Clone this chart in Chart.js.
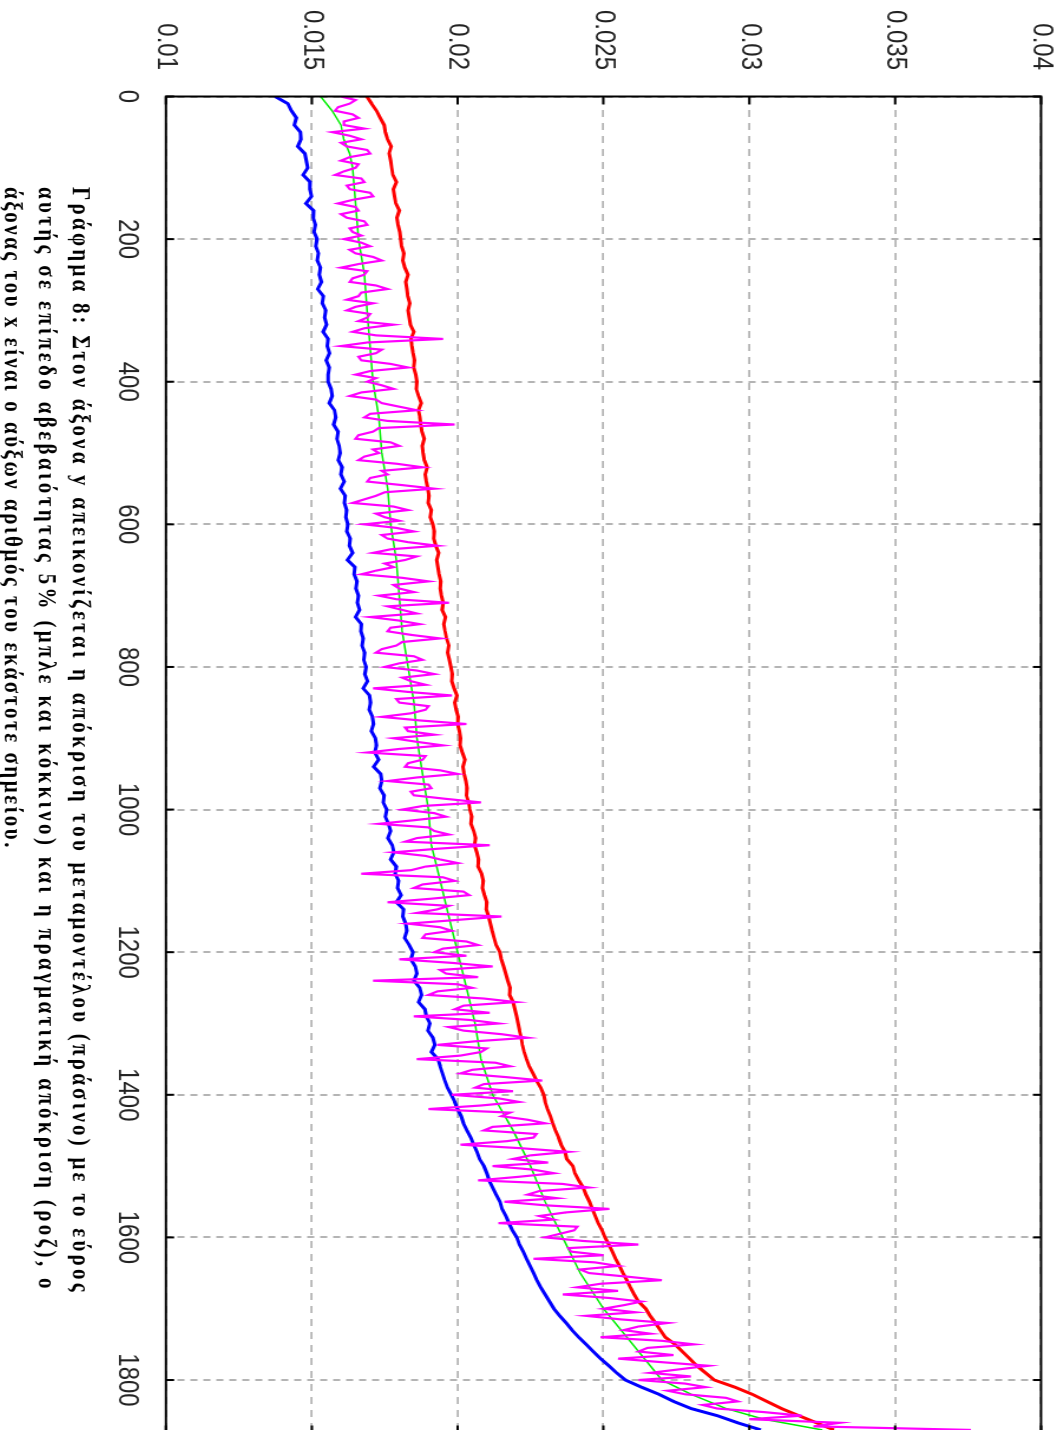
<!DOCTYPE html>
<html>
<head>
<meta charset="utf-8">
<script src="https://cdn.jsdelivr.net/npm/chart.js@4.4.0/dist/chart.umd.min.js"></script>
<style>
  html, body { margin: 0; padding: 0; background: #fff; overflow: hidden; width: 1063px; height: 1430px; }
  /* chart is laid out unrotated, then turned a quarter clockwise and stretched across */
  #stage {
    position: absolute; left: 0; top: 0; width: 1440px; height: 901px;
    transform-origin: 0 0;
    transform: translateX(1063px) rotate(90deg) scale(1, 1.18);
  }
  #plot { position: absolute; left: 0; top: 0; width: 1440px; height: 901px; }
  #caption {
    position: absolute; left: 187px; top: 818px;
    font: bold 21px 'Liberation Serif', serif; line-height: 29px; color: #000;
  }
  #caption span { display: inline-block; white-space: nowrap; }
</style>
</head>
<body>
<div id="stage">
  <div id="plot"><canvas id="chart"></canvas></div>
  <div id="caption">
    <span data-w="1108">Γράφημα 8: Στον άξονα y απεικονίζεται η απόκριση του μεταμοντέλου (πράσινο) με το εύρος</span><br>
    <span data-w="1108">αυτής σε επίπεδο αβεβαιότητας 5% (μπλε και κόκκινο)  και η πραγματική απόκριση (ροζ), ο</span><br>
    <span data-w="663">άξονας του x είναι ο αύξων αριθμός του εκάστοτε σημείου.</span>
  </div>
</div>
<script>
// tick values / labels
const xTicks = [0, 200, 400, 600, 800, 1000, 1200, 1400, 1600, 1800];
const yTicks = [0.01, 0.015, 0.02, 0.025, 0.03, 0.035, 0.04];
const yTickLabels = ['0.01', '0.015', '0.02', '0.025', '0.03', '0.035', '0.04'];

// lower bound (blue), every 10 points
const blueVals = [
  // 0 - 190
  0.01374, 0.01418, 0.01430, 0.01447, 0.01440, 0.01461, 0.01463, 0.01452, 0.01476, 0.01481,
  0.01486, 0.01470, 0.01494, 0.01493, 0.01499, 0.01480, 0.01506, 0.01505, 0.01512, 0.01508,
  // 200 - 390
  0.01518, 0.01514, 0.01523, 0.01519, 0.01530, 0.01526, 0.01533, 0.01520, 0.01540, 0.01536,
  0.01548, 0.01544, 0.01551, 0.01539, 0.01556, 0.01553, 0.01561, 0.01549, 0.01560, 0.01556,
  // 400 - 590
  0.01556, 0.01566, 0.01570, 0.01560, 0.01578, 0.01582, 0.01575, 0.01590, 0.01586, 0.01594,
  0.01597, 0.01591, 0.01604, 0.01600, 0.01611, 0.01598, 0.01615, 0.01612, 0.01620, 0.01617,
  // 600 - 790
  0.01624, 0.01620, 0.01632, 0.01629, 0.01640, 0.01622, 0.01648, 0.01645, 0.01655, 0.01651,
  0.01660, 0.01656, 0.01664, 0.01650, 0.01670, 0.01668, 0.01676, 0.01672, 0.01681, 0.01678,
  // 800 - 990
  0.01686, 0.01682, 0.01691, 0.01676, 0.01698, 0.01702, 0.01697, 0.01708, 0.01712, 0.01704,
  0.01718, 0.01722, 0.01716, 0.01729, 0.01712, 0.01736, 0.01740, 0.01733, 0.01748, 0.01745,
  // 1000 - 1190
  0.01757, 0.01752, 0.01763, 0.01770, 0.01761, 0.01776, 0.01781, 0.01770, 0.01790, 0.01786,
  0.01798, 0.01794, 0.01806, 0.01790, 0.01815, 0.01812, 0.01822, 0.01826, 0.01818, 0.01834,
  // 1200 - 1390
  0.01847, 0.01840, 0.01855, 0.01860, 0.01850, 0.01870, 0.01876, 0.01866, 0.01888, 0.01893,
  0.01905, 0.01898, 0.01915, 0.01922, 0.01910, 0.01933, 0.01940, 0.01948, 0.01956, 0.01965,
  // 1400 - 1590
  0.01978, 0.01990, 0.02000, 0.02012, 0.02020, 0.02032, 0.02045, 0.02055, 0.02066, 0.02075,
  0.02090, 0.02100, 0.02108, 0.02120, 0.02132, 0.02145, 0.02152, 0.02165, 0.02176, 0.02188,
  // 1600 - 1790
  0.02203, 0.02212, 0.02225, 0.02236, 0.02248, 0.02260, 0.02272, 0.02285, 0.02300, 0.02315,
  0.02330, 0.02350, 0.02372, 0.02392, 0.02415, 0.02440, 0.02465, 0.02490, 0.02518, 0.02545,
  // 1800 - 1870
  0.02575, 0.02630, 0.02690, 0.02740, 0.02800, 0.02890, 0.02960, 0.03040
];

// upper bound (red), every 10 points
const redVals = [
  // 0 - 190
  0.01689, 0.01705, 0.01722, 0.01735, 0.01748, 0.01752, 0.01760, 0.01772, 0.01765, 0.01770,
  0.01774, 0.01778, 0.01790, 0.01780, 0.01784, 0.01788, 0.01800, 0.01792, 0.01796, 0.01802,
  // 200 - 390
  0.01805, 0.01808, 0.01816, 0.01812, 0.01819, 0.01830, 0.01822, 0.01826, 0.01829, 0.01836,
  0.01830, 0.01834, 0.01838, 0.01850, 0.01840, 0.01843, 0.01847, 0.01852, 0.01849, 0.01856,
  // 400 - 590
  0.01860, 0.01858, 0.01866, 0.01875, 0.01866, 0.01871, 0.01874, 0.01878, 0.01886, 0.01879,
  0.01882, 0.01886, 0.01896, 0.01889, 0.01893, 0.01898, 0.01902, 0.01899, 0.01910, 0.01906,
  // 600 - 790
  0.01915, 0.01920, 0.01918, 0.01925, 0.01935, 0.01928, 0.01932, 0.01936, 0.01942, 0.01940,
  0.01944, 0.01950, 0.01947, 0.01958, 0.01953, 0.01957, 0.01962, 0.01970, 0.01966, 0.01972,
  // 800 - 990
  0.01977, 0.01982, 0.01980, 0.01988, 0.01998, 0.01990, 0.01995, 0.02002, 0.02000, 0.02006,
  0.02010, 0.02008, 0.02016, 0.02025, 0.02018, 0.02022, 0.02028, 0.02032, 0.02030, 0.02038,
  // 1000 - 1190
  0.02042, 0.02048, 0.02046, 0.02055, 0.02062, 0.02058, 0.02066, 0.02072, 0.02070, 0.02082,
  0.02088, 0.02085, 0.02092, 0.02100, 0.02098, 0.02106, 0.02112, 0.02118, 0.02125, 0.02132,
  // 1200 - 1390
  0.02145, 0.02150, 0.02158, 0.02165, 0.02172, 0.02180, 0.02178, 0.02190, 0.02196, 0.02202,
  0.02207, 0.02212, 0.02218, 0.02222, 0.02228, 0.02236, 0.02245, 0.02258, 0.02270, 0.02285,
  // 1400 - 1590
  0.02295, 0.02300, 0.02308, 0.02318, 0.02326, 0.02335, 0.02346, 0.02355, 0.02368, 0.02374,
  0.02395, 0.02402, 0.02415, 0.02430, 0.02440, 0.02452, 0.02462, 0.02472, 0.02482, 0.02495,
  // 1600 - 1790
  0.02505, 0.02518, 0.02530, 0.02542, 0.02555, 0.02567, 0.02580, 0.02592, 0.02605, 0.02620,
  0.02645, 0.02660, 0.02678, 0.02695, 0.02712, 0.02745, 0.02770, 0.02795, 0.02820, 0.02850,
  // 1800 - 1870
  0.02880, 0.02950, 0.03010, 0.03060, 0.03110, 0.03170, 0.03230, 0.03290
];
const boundX = blueVals.map((_, i) => i * 10);

// meta-model prediction (green)
const greenX = [0, 20, 40, 60, 80, 100, 150, 200, 250, 300, 350, 400, 450, 500, 550, 600, 650, 700,
  750, 800, 850, 900, 950, 1000, 1050, 1100, 1150, 1200, 1250, 1300, 1350, 1400, 1450, 1500, 1550,
  1600, 1650, 1700, 1750, 1800, 1820, 1840, 1855, 1870];
const greenVals = [0.0153, 0.0157, 0.0160, 0.0161, 0.0163, 0.0164, 0.0165, 0.0166, 0.0168, 0.0169,
  0.0170, 0.0171, 0.0173, 0.0174, 0.0176, 0.0177, 0.0179, 0.0180, 0.0181, 0.0183, 0.0185, 0.0186,
  0.0188, 0.0190, 0.0191, 0.0194, 0.0197, 0.0200, 0.0203, 0.0206, 0.0208, 0.0212, 0.0219, 0.0225,
  0.0230, 0.0236, 0.0242, 0.0250, 0.0260, 0.0270, 0.0280, 0.0292, 0.0305, 0.0325];

// actual response (magenta), every 5 points
const pinkVals = [
  // 0 - 195
  0.0160, 0.0165, 0.0163, 0.0159, 0.0158, 0.0164, 0.0166, 0.0161, 0.0161, 0.0168,
  0.0157, 0.0163, 0.0167, 0.0160, 0.0162, 0.0169, 0.0170, 0.0163, 0.0160, 0.0166,
  0.0165, 0.0161, 0.0158, 0.0167, 0.0168, 0.0162, 0.0163, 0.0170, 0.0171, 0.0164,
  0.0159, 0.0165, 0.0166, 0.0160, 0.0162, 0.0168, 0.0169, 0.0163, 0.0164, 0.0167,
  // 200 - 395
  0.0161, 0.0167, 0.0170, 0.0163, 0.0165, 0.0171, 0.0174, 0.0166, 0.0160, 0.0169,
  0.0168, 0.0164, 0.0163, 0.0172, 0.0176, 0.0167, 0.0166, 0.0162, 0.0171, 0.0165,
  0.0162, 0.0170, 0.0169, 0.0166, 0.0178, 0.0168, 0.0164, 0.0172, 0.0195, 0.0169,
  0.0160, 0.0174, 0.0172, 0.0166, 0.0167, 0.0177, 0.0183, 0.0170, 0.0165, 0.0172,
  // 400 - 595
  0.0169, 0.0174, 0.0178, 0.0167, 0.0163, 0.0172, 0.0174, 0.0180, 0.0186, 0.0170,
  0.0168, 0.0176, 0.0199, 0.0173, 0.0171, 0.0166, 0.0165, 0.0177, 0.0180, 0.0171,
  0.0173, 0.0168, 0.0166, 0.0179, 0.0188, 0.0174, 0.0176, 0.0170, 0.0169, 0.0181,
  0.0192, 0.0175, 0.0172, 0.0168, 0.0164, 0.0178, 0.0183, 0.0172, 0.0175, 0.0180,
  // 600 - 795
  0.0168, 0.0179, 0.0185, 0.0174, 0.0176, 0.0183, 0.0193, 0.0177, 0.0171, 0.0186,
  0.0182, 0.0175, 0.0178, 0.0172, 0.0167, 0.0181, 0.0190, 0.0178, 0.0180, 0.0185,
  0.0173, 0.0179, 0.0197, 0.0176, 0.0181, 0.0186, 0.0170, 0.0180, 0.0187, 0.0177,
  0.0176, 0.0184, 0.0194, 0.0181, 0.0179, 0.0174, 0.0172, 0.0185, 0.0188, 0.0180,
  // 800 - 995
  0.0175, 0.0186, 0.0192, 0.0181, 0.0184, 0.0189, 0.0171, 0.0183, 0.0198, 0.0179,
  0.0180, 0.0190, 0.0189, 0.0184, 0.0174, 0.0187, 0.0203, 0.0182, 0.0183, 0.0192,
  0.0178, 0.0186, 0.0195, 0.0180, 0.0169, 0.0189, 0.0188, 0.0183, 0.0182, 0.0194,
  0.0200, 0.0186, 0.0176, 0.0190, 0.0191, 0.0184, 0.0185, 0.0196, 0.0208, 0.0188,
  // 1000 - 1195
  0.0181, 0.0192, 0.0196, 0.0185, 0.0173, 0.0190, 0.0192, 0.0197, 0.0186, 0.0182,
  0.0211, 0.0193, 0.0178, 0.0189, 0.0194, 0.0200, 0.0189, 0.0184, 0.0167, 0.0195,
  0.0199, 0.0188, 0.0185, 0.0202, 0.0204, 0.0191, 0.0176, 0.0197, 0.0193, 0.0186,
  0.0215, 0.0199, 0.0183, 0.0194, 0.0198, 0.0189, 0.0188, 0.0203, 0.0207, 0.0195,
  // 1200 - 1395
  0.0192, 0.0203, 0.0180, 0.0198, 0.0212, 0.0194, 0.0196, 0.0207, 0.0171, 0.0200,
  0.0205, 0.0193, 0.0190, 0.0209, 0.0220, 0.0202, 0.0199, 0.0211, 0.0185, 0.0204,
  0.0214, 0.0197, 0.0202, 0.0215, 0.0224, 0.0206, 0.0193, 0.0210, 0.0208, 0.0201,
  0.0186, 0.0213, 0.0218, 0.0205, 0.0201, 0.0216, 0.0229, 0.0209, 0.0206, 0.0219,
  // 1400 - 1595
  0.0198, 0.0214, 0.0221, 0.0208, 0.0190, 0.0218, 0.0215, 0.0224, 0.0230, 0.0212,
  0.0209, 0.0227, 0.0226, 0.0217, 0.0201, 0.0222, 0.0238, 0.0225, 0.0219, 0.0231,
  0.0212, 0.0226, 0.0233, 0.0221, 0.0207, 0.0236, 0.0245, 0.0228, 0.0224, 0.0234,
  0.0216, 0.0230, 0.0252, 0.0237, 0.0228, 0.0233, 0.0214, 0.0241, 0.0240, 0.0235,
  // 1600 - 1795
  0.0230, 0.0243, 0.0262, 0.0238, 0.0239, 0.0250, 0.0226, 0.0247, 0.0255, 0.0242,
  0.0245, 0.0258, 0.0270, 0.0249, 0.0241, 0.0255, 0.0236, 0.0252, 0.0263, 0.0257,
  0.0250, 0.0261, 0.0244, 0.0256, 0.0272, 0.0262, 0.0257, 0.0266, 0.0249, 0.0270,
  0.0281, 0.0265, 0.0262, 0.0274, 0.0255, 0.0270, 0.0286, 0.0276, 0.0266, 0.0280,
  // 1800 - 1870
  0.0262, 0.0278, 0.0285, 0.0272, 0.0278, 0.0292, 0.0296, 0.0284, 0.0289, 0.0305,
  0.0318, 0.0300, 0.0331, 0.0322, 0.0376
];
const pinkX = pinkVals.map((_, i) => i * 5);

const pts = (xs, ys) => ys.map((v, i) => ({ x: xs[i], y: v }));

// border box with gnuplot-style inward ticks on all four sides
const framePlugin = {
  id: 'frame',
  afterDatasetsDraw(chart) {
    const { ctx, chartArea: a, scales } = chart;
    ctx.save();
    ctx.strokeStyle = '#000';
    ctx.lineWidth = 2;
    ctx.beginPath();
    xTicks.forEach(v => {
      const px = scales.x.getPixelForValue(v);
      ctx.moveTo(px, a.bottom); ctx.lineTo(px, a.bottom - 7);
      ctx.moveTo(px, a.top); ctx.lineTo(px, a.top + 7);
    });
    yTicks.forEach(v => {
      const py = scales.y.getPixelForValue(v);
      ctx.moveTo(a.left, py); ctx.lineTo(a.left + 8, py);
      ctx.moveTo(a.right, py); ctx.lineTo(a.right - 8, py);
    });
    ctx.stroke();
    ctx.strokeRect(a.left, a.top, a.right - a.left, a.bottom - a.top);
    ctx.restore();
  }
};

const tickFont = { family: "'Liberation Sans', Arial, sans-serif", size: 24 };

new Chart(document.getElementById('chart'), {
  type: 'line',
  data: {
    datasets: [
      { data: pts(pinkX, pinkVals), borderColor: '#ff00ff', borderWidth: 2.2 },
      { data: pts(boundX, redVals), borderColor: '#ff0000', borderWidth: 3 },
      { data: pts(boundX, blueVals), borderColor: '#0000ff', borderWidth: 3 },
      { data: pts(greenX, greenVals), borderColor: '#00ee00', borderWidth: 1.5 },
    ]
  },
  options: {
    responsive: true,
    maintainAspectRatio: false,
    animation: false,
    events: [],
    layout: { padding: { top: 18.6, right: 6.5, bottom: 0, left: 0 } },
    elements: { point: { radius: 0 }, line: { tension: 0, fill: false } },
    plugins: { legend: { display: false }, tooltip: { enabled: false } },
    scales: {
      x: {
        type: 'linear', min: 0, max: 1875,
        afterBuildTicks: s => { s.ticks = xTicks.map(v => ({ value: v })); },
        afterFit: s => { s.height = 140.8; s.paddingLeft = 0; s.paddingRight = 0; },
        ticks: {
          font: tickFont, color: '#222', padding: 19, maxRotation: 0, autoSkip: false,
          callback: v => String(v)
        },
        grid: { color: '#b4b4b4', lineWidth: 2, drawTicks: false },
        border: { display: false, dash: [6, 5] }
      },
      y: {
        type: 'linear', min: 0.01, max: 0.04,
        afterBuildTicks: s => { s.ticks = yTicks.map(v => ({ value: v })); },
        afterFit: s => { s.width = 96.5; s.paddingTop = 0; s.paddingBottom = 0; },
        ticks: {
          font: tickFont, color: '#222', padding: 26.5,
          callback: v => yTickLabels[yTicks.indexOf(v)]
        },
        grid: { color: '#b4b4b4', lineWidth: 1.7, drawTicks: false },
        border: { display: false, dash: [7, 6] }
      }
    }
  },
  plugins: [framePlugin]
});

// spread caption letters so each line spans its width in the picture
document.querySelectorAll('#caption span').forEach(sp => {
  const target = +sp.dataset.w;
  const n = sp.textContent.length;
  const w = sp.offsetWidth;
  sp.style.letterSpacing = ((target - w) / n) + 'px';
});
</script>
</body>
</html>
